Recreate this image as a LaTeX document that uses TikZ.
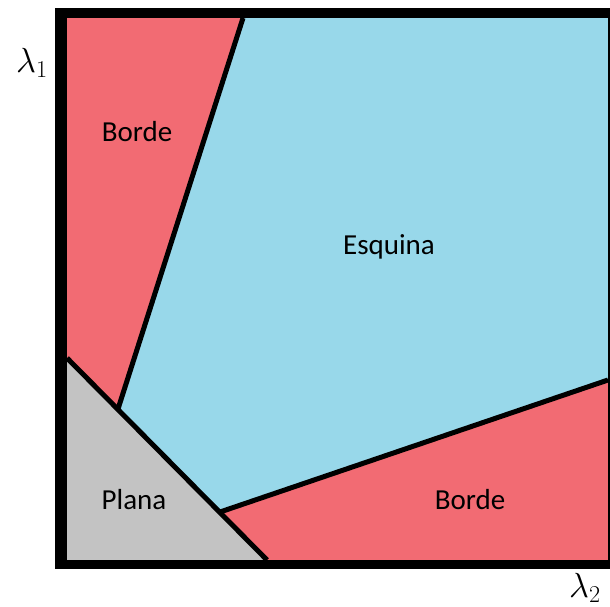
\documentclass[tikz,border=0pt]{standalone}
\usepackage{fontspec}
\setmainfont{Carlito}
\usepackage{tikz}
\definecolor{bordeR}{HTML}{F26B73}
\definecolor{esquinaB}{HTML}{98D8EA}
\definecolor{planaG}{HTML}{C3C3C3}
\tikzset{
  cut/.style={draw=black,line width=5pt},
  lab/.style={font=\fontsize{29}{35}\selectfont},
  axlab/.style={font=\fontsize{24}{28}\selectfont,scale=1.4}
}
\begin{document}
\begin{tikzpicture}[x=1pt,y=-1pt]
\useasboundingbox (0,0) rectangle (610,606);
% corner points of the square
\coordinate (tl) at (67,18);
\coordinate (tr) at (608,18);
\coordinate (br) at (608,560);
\coordinate (bl) at (67,560);
% break points
\coordinate (a) at (243,18);
\coordinate (b) at (118,409);
\coordinate (c) at (220,512);
\coordinate (d1) at (67,358);
\coordinate (d2) at (267,560);
\coordinate (e) at (608,380);
% regions
\fill[bordeR] (tl) -- (a) -- (b) -- (d1) -- cycle;
\fill[esquinaB] (a) -- (tr) -- (e) -- (c) -- (b) -- cycle;
\fill[planaG] (d1) -- (d2) -- (bl) -- cycle;
\fill[bordeR] (c) -- (e) -- (br) -- (d2) -- cycle;
% borders between regions
\draw[cut] (a) -- (b);
\draw[cut] (d1) -- (d2);
\draw[cut] (c) -- (e);
% frame
\fill[black] (55,8) rectangle (67,569);
\fill[black] (55,8) rectangle (610,18);
\fill[black] (55,560) rectangle (610,569);
\fill[black] (608,8) rectangle (610,569);
% labels
\node[lab] (bordeup) at (137,132) {Borde};
\node[lab] (esquina) at (389,247) {Esquina};
\node[lab] (plana) at (134,500) {Plana};
\node[lab] (bordedn) at (470,500) {Borde};
\node[axlab] (lone) at (32,63) {$\lambda_1$};
\node[axlab] (ltwo) at (585,588) {$\lambda_2$};
\end{tikzpicture}
\end{document}
